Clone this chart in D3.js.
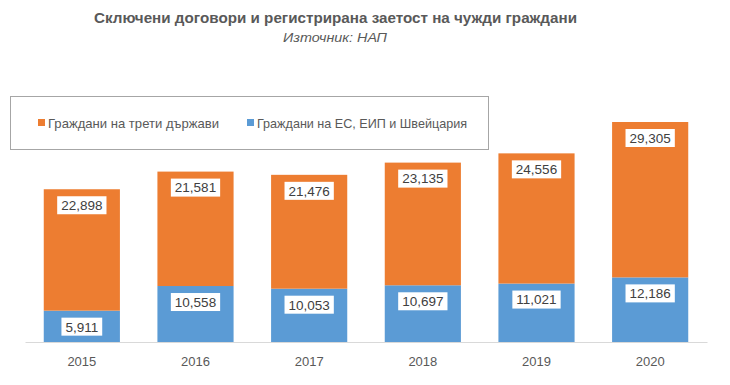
<!DOCTYPE html>
<html><head><meta charset="utf-8">
<script src="https://cdn.jsdelivr.net/npm/d3@7"></script>
<style>body{margin:0;background:#fff}svg{display:block}</style>
</head><body>
<svg id="c" width="730" height="385"></svg>
<script>
const years = ["2015","2016","2017","2018","2019","2020"];
const euCitizens = [5911,10558,10053,10697,11021,12186];
const thirdCountry = [22898,21581,21476,23135,24556,29305];
const seriesNames = ["Граждани на трети държави","Граждани на ЕС, ЕИП и Швейцария"];
const seriesColors = ["#ED7D31","#5B9BD5"];
const title = "Сключени договори и регистрирана заетост на чужди граждани";
const subtitle = "Източник: НАП";

const svg = d3.select("#c");
const font = "'Liberation Sans', Arial, sans-serif";
const textColor = "#595959";

const x = d3.scaleBand().domain(years).range([25,707]).paddingInner(0.33).paddingOuter(0.165);
const y = d3.scaleLinear().domain([0,45000]).range([342,103.4]);

// title
svg.append("text").attr("x",335.5).attr("y",22.7).attr("text-anchor","middle")
  .attr("font-family",font).attr("font-weight","bold").attr("font-size",14.2)
  .attr("fill",textColor).attr("textLength",483).attr("lengthAdjust","spacingAndGlyphs").text(title);
svg.append("text").attr("x",335).attr("y",42).attr("text-anchor","middle")
  .attr("font-family",font).attr("font-style","italic").attr("font-size",13)
  .attr("fill",textColor).attr("textLength",104).attr("lengthAdjust","spacingAndGlyphs").text(subtitle);

// legend
svg.append("rect").attr("x",10.5).attr("y",96.5).attr("width",478).attr("height",53)
  .attr("fill","#fff").attr("stroke","#a6a6a6").attr("stroke-width",1);
const legX = [38,247], legTextX=[48,257], legW=[171,210];
seriesNames.forEach((n,i)=>{
  svg.append("rect").attr("x",legX[i]).attr("y",119).attr("width",7).attr("height",7).attr("fill",seriesColors[i]);
  svg.append("text").attr("x",legTextX[i]).attr("y",127.5).attr("font-family",font).attr("font-size",13)
    .attr("fill",textColor).attr("textLength",legW[i]).attr("lengthAdjust","spacingAndGlyphs").text(n);
});

// bars
const data = years.map((yr,i)=>({yr, eu:euCitizens[i], third:thirdCountry[i]}));
const g = svg.append("g");
data.forEach(d=>{
  const bx = x(d.yr), bw = x.bandwidth();
  g.append("rect").attr("x",bx).attr("width",bw).attr("y",y(d.eu)).attr("height",y(0)-y(d.eu)).attr("fill",seriesColors[1]);
  g.append("rect").attr("x",bx).attr("width",bw).attr("y",y(d.eu+d.third)).attr("height",y(d.eu)-y(d.eu+d.third)).attr("fill",seriesColors[0]);
});

// axis
const ax = svg.append("g").attr("transform","translate(0,342)").call(d3.axisBottom(x).tickSize(0).tickPadding(15));
ax.select(".domain").attr("stroke","#d9d9d9").attr("stroke-width",1.2);
ax.selectAll("text").attr("font-family",font).attr("font-size",13).attr("fill",textColor);

// labels
const fmt = d3.format(",");
function label(cx, cy, v){
  const t = svg.append("text").attr("x",cx).attr("y",cy).attr("text-anchor","middle").attr("dy","0.36em")
    .attr("font-family",font).attr("font-size",13.5).attr("fill","#404040").text(fmt(v));
  const w = t.node().getComputedTextLength();
  svg.insert("rect", () => t.node()).attr("x",cx-w/2-4).attr("y",cy-9).attr("width",w+8).attr("height",18).attr("fill","#fff");
}
data.forEach(d=>{
  const cx = x(d.yr)+x.bandwidth()/2;
  label(cx, y(d.eu+d.third)+16, d.third);
  label(cx, y(d.eu)+16, d.eu);
});
</script>
</body></html>
